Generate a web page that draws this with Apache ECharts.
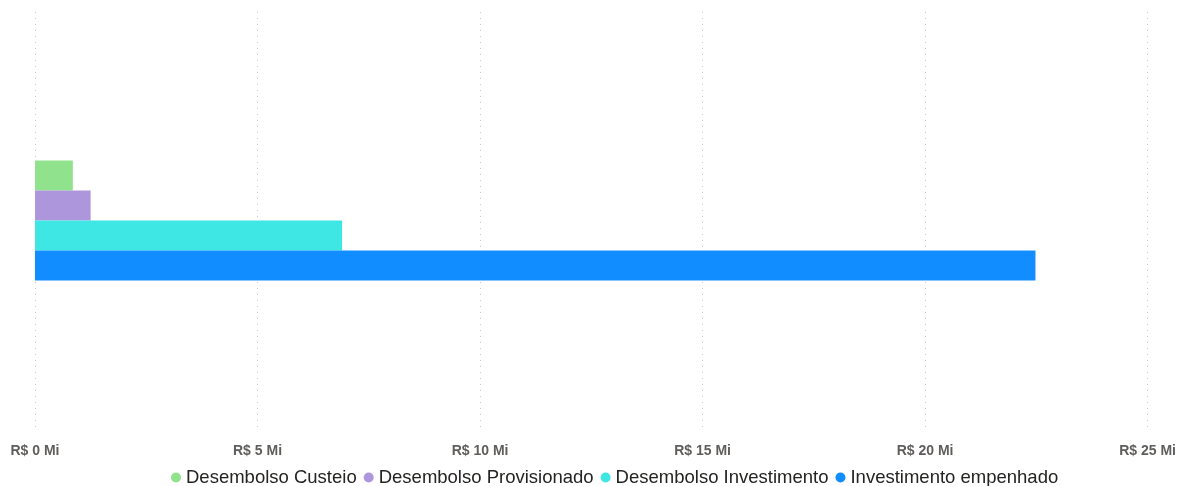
<!DOCTYPE html>
<html lang="pt">
  <head>
    <meta charset="UTF-8" />
    <script src="https://cdn.jsdelivr.net/npm/echarts@6/dist/echarts.min.js"></script>
    <style>
      html, body { margin: 0; padding: 0; background: #fff; }
      #main { width: 1179px; height: 486px; }
    </style>
    <title>Desembolso</title>
  </head>
  <body>
    <div id="main"></div>
    <script>
      const categories = [""];
      const seriesNames = [
        "Desembolso Custeio",
        "Desembolso Provisionado",
        "Desembolso Investimento",
        "Investimento empenhado",
      ];
      const seriesValues = [
        [850000],
        [1250000],
        [6900000],
        [22480000],
      ];
      const colors = ["#90E28C", "#AE96DC", "#3EE6E4", "#118DFF"];

      const myChart = echarts.init(document.getElementById("main"));

      myChart.setOption({
        animation: false,
        grid: { left: 35, right: 31, top: 12, bottom: 57 },
        legend: {
          bottom: -6,
          left: 166,
          icon: "circle",
          itemWidth: 10,
          itemHeight: 10,
          itemGap: 7,
          textStyle: { fontSize: 18.5, color: "#252423", fontFamily: "Liberation Sans" },
          data: seriesNames,
        },
        xAxis: {
          type: "value",
          min: 0,
          max: 25000000,
          interval: 5000000,
          axisLine: { show: false },
          axisTick: { show: false },
          axisLabel: {
            margin: 15,
            color: "#605E5C",
            fontWeight: "bold",
            fontSize: 14,
            fontFamily: "Liberation Sans",
            formatter: (v) => "R$ " + v / 1000000 + " Mi",
          },
          splitLine: {
            lineStyle: { color: "#C8C8C8", type: [1, 5], width: 1 },
          },
        },
        yAxis: {
          type: "category",
          inverse: true,
          data: categories,
          axisLine: { show: false },
          axisTick: { show: false },
          axisLabel: { show: false },
        },
        series: seriesNames.map((name, i) => ({
          name: name,
          type: "bar",
          barWidth: 30,
          barGap: "0%",
          itemStyle: { color: colors[i] },
          data: seriesValues[i],
        })),
      });
    </script>
  </body>
</html>
